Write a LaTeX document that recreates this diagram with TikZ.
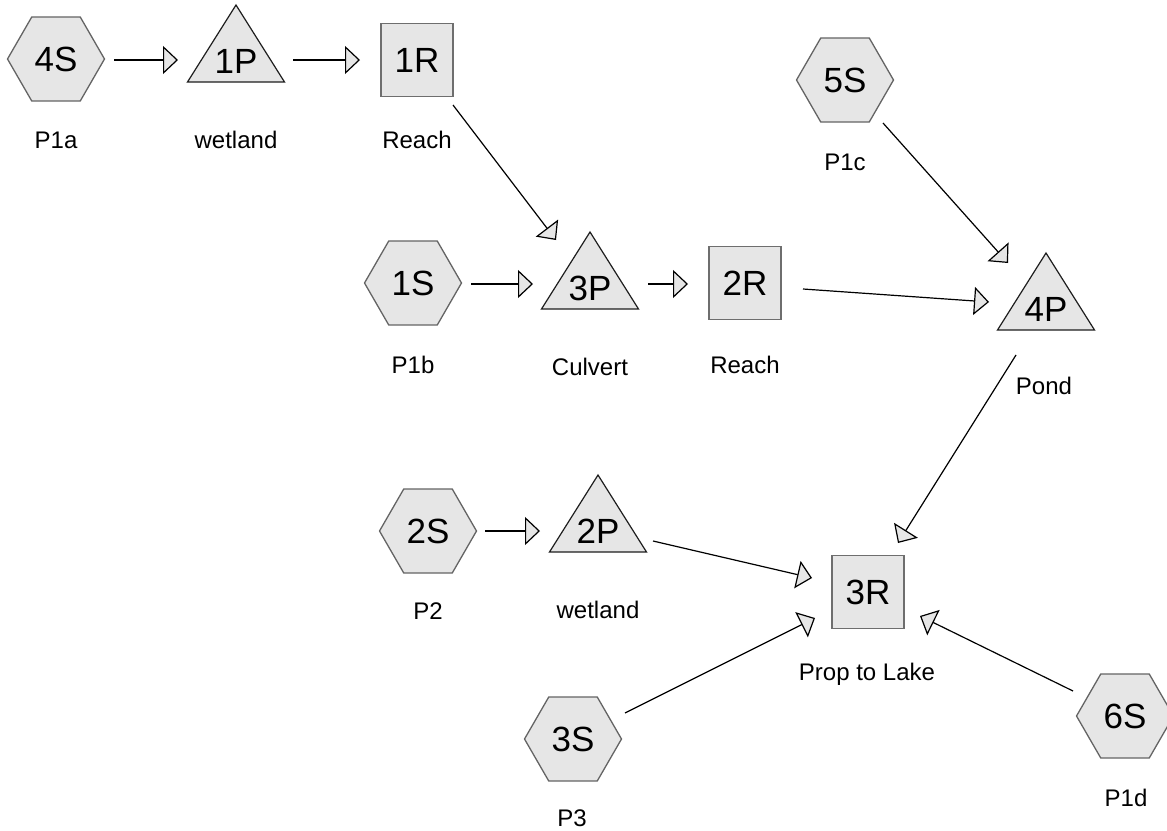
\documentclass[tikz,border=0pt]{standalone}
\usepackage{fontspec}
\setmainfont{Liberation Sans}
\usetikzlibrary{shapes.geometric,arrows.meta,calc,backgrounds}
\definecolor{shapefill}{RGB}{230,230,230}
\definecolor{hexline}{RGB}{100,100,100}
\definecolor{boxline}{RGB}{110,110,110}
\definecolor{triline}{RGB}{30,30,30}
\newcommand\tridraw[1]{%
  \begin{pgfonlayer}{background}
    \filldraw[trishape] ($(#1)+(0,-56)$) -- ($(#1)+(48.5,21)$) -- ($(#1)+(-48.5,21)$) -- cycle;
  \end{pgfonlayer}}
\begin{document}
\begin{tikzpicture}[x=1pt,y=-1pt,
  bigtext/.style={font=\fontsize{35}{40}\selectfont, text height=25pt, text depth=0pt},
  hexnode/.style={bigtext, regular polygon, regular polygon sides=6, minimum size=97pt, inner sep=0pt,
    fill=shapefill, draw=hexline, line width=1.3pt},
  boxnode/.style={bigtext, rectangle, minimum width=72pt, minimum height=73pt, inner sep=0pt,
    fill=shapefill, draw=boxline, line width=1.3pt},
  trinode/.style={bigtext, inner sep=0pt},
  trishape/.style={fill=shapefill, draw=triline, line width=1.2pt, line join=miter},
  lbl/.style={font=\fontsize{24}{28}\selectfont, text height=17.2pt, text depth=0pt, inner sep=0pt},
  flow/.style={draw=black, line width=1.2pt,
    -{Triangle[length=15pt,width=28pt,fill=shapefill,line width=1.2pt]}}
]
\useasboundingbox (0,0) rectangle (1167,830);

% shapes
\node[hexnode] (s4) at (56,59) {4S};
\node[trinode] (p1) at (236,61) {1P}; \tridraw{p1}
\node[boxnode] (r1) at (417,60) {1R};
\node[hexnode] (s5) at (845,80) {5S};
\node[hexnode] (s1) at (413,283) {1S};
\node[trinode] (p3) at (590,288) {3P}; \tridraw{p3}
\node[boxnode] (r2) at (745,283) {2R};
\node[trinode] (p4) at (1046,309) {4P}; \tridraw{p4}
\node[hexnode] (s2) at (428,531) {2S};
\node[trinode] (p2) at (598,531) {2P}; \tridraw{p2}
\node[boxnode] (r3) at (868,592) {3R};
\node[hexnode] (s3) at (573,739) {3S};
\node[hexnode] (s6) at (1125,716) {6S};

% labels
\node[lbl] (l4s) at (56,140) {P1a};
\node[lbl] (l1p) at (236,140) {wetland};
\node[lbl] (l1r) at (417,140) {Reach};
\node[lbl] (l5s) at (845,162) {P1c};
\node[lbl] (l1s) at (413,365) {P1b};
\node[lbl] (l3p) at (590,367) {Culvert};
\node[lbl] (l2r) at (745,365) {Reach};
\node[lbl] (l4p) at (1044,386) {Pond};
\node[lbl] (l2s) at (428,611) {P2};
\node[lbl] (l2p) at (598,610) {wetland};
\node[lbl] (l3r) at (867,672) {Prop to Lake};
\node[lbl] (l3s) at (572,818) {P3};
\node[lbl] (l6s) at (1126,798) {P1d};

% connectors
\draw[flow] ($(s4)+(58,1)$) -- ($(p1)+(-58,-1)$);
\draw[flow] ($(p1)+(57,-1)$) -- ($(r1)+(-57,0)$);
\draw[flow] ($(r1)+(36,45)$) -- ($(p3)+(-34,-48)$);
\draw[flow] ($(s1)+(58,1)$) -- ($(p3)+(-57,-4)$);
\draw[flow] ($(p3)+(58,-4)$) -- ($(r2)+(-57,1)$);
\draw[flow] ($(r2)+(58,6)$) -- ($(p4)+(-57,-7)$);
\draw[flow] ($(s5)+(38,43)$) -- ($(p4)+(-38,-46)$);
\draw[flow] ($(p4)+(-30,46)$) -- ($(r3)+(30,-49)$);
\draw[flow] ($(s2)+(57,0)$) -- ($(p2)+(-58,0)$);
\draw[flow] ($(p2)+(55,10)$) -- ($(r3)+(-56,-14)$);
\draw[flow] ($(s3)+(52,-26)$) -- ($(r3)+(-53,26)$);
\draw[flow] ($(s6)+(-52,-25)$) -- ($(r3)+(52,24)$);
\end{tikzpicture}
\end{document}
